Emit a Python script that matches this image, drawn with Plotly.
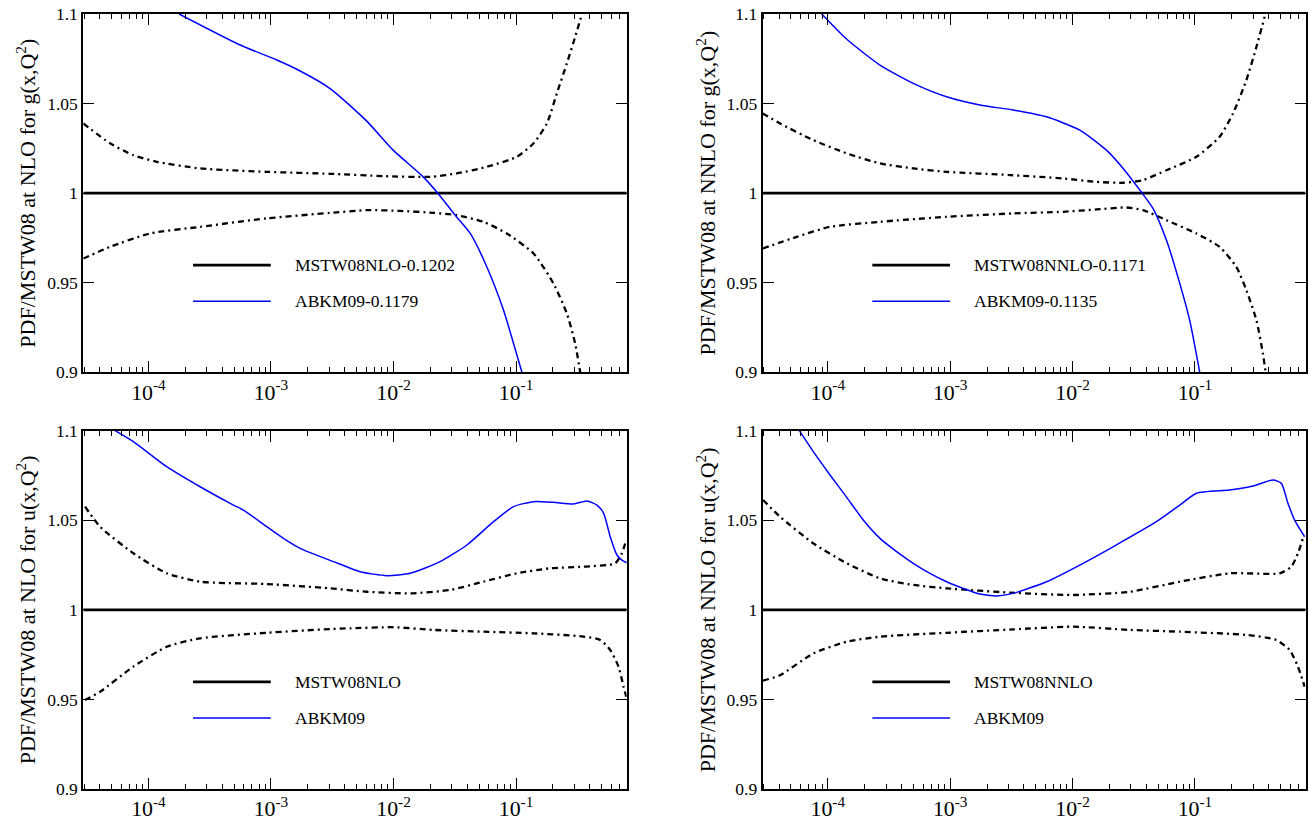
import plotly.graph_objects as go
import math

# ---------------- data ----------------
x_range = [2.94e-5, 0.80]

# Top-left: NLO gluon
gNLO_abkm_x = [1.78e-4, 5.60e-4, 1.117e-3, 1.73e-3, 3.04e-3, 6.05e-3, 9.93e-3, 1.746e-2,
               2.30e-2, 3.19e-2, 4.23e-2, 5.78e-2, 7.91e-2, 9.53e-2, 0.1117]
gNLO_abkm_y = [1.1, 1.0827, 1.0743, 1.0682, 1.0584, 1.0402, 1.024, 1.0091,
               1.0, 0.9877, 0.9775, 0.9588, 0.9346, 0.9162, 0.9]
gNLO_up_x = [2.94e-5, 4.86e-5, 7.53e-5, 1.17e-4, 2.64e-4, 9.25e-4, 3.04e-3, 8.24e-3, 1.99e-2,
             3.29e-2, 5.78e-2, 0.1016, 0.139, 0.1786, 0.2153, 0.26, 0.304, 0.345]
gNLO_up_y = [1.0389, 1.0278, 1.0212, 1.0175, 1.0138, 1.0119, 1.0108, 1.0095, 1.0091,
             1.011, 1.0147, 1.0203, 1.0278, 1.0389, 1.0557, 1.0725, 1.0873, 1.1]
gNLO_lo_x = [2.94e-5, 4.86e-5, 1.03e-4, 2.64e-4, 9.25e-4, 3.04e-3, 6.05e-3, 1.13e-2, 2.12e-2,
             3.29e-2, 5.42e-2, 8.41e-2, 0.139, 0.2023, 0.26, 0.304, 0.334]
gNLO_lo_y = [0.9635, 0.97, 0.9775, 0.9812, 0.9859, 0.989, 0.9905, 0.9901, 0.989,
             0.9877, 0.984, 0.9775, 0.9663, 0.9495, 0.9328, 0.916, 0.9]

# Top-right: NNLO gluon
gNNLO_abkm_x = [8.92e-5, 1.43e-4, 2.67e-4, 4.99e-4, 9.35e-4, 1.75e-3, 3.27e-3, 6.12e-3, 1.146e-2,
                1.89e-2, 2.59e-2, 3.70e-2, 4.55e-2, 5.85e-2, 7.52e-2, 9.06e-2, 0.1094]
gNNLO_abkm_y = [1.1, 1.0859, 1.0715, 1.0613, 1.0538, 1.0492, 1.0464, 1.0426, 1.0352,
                1.024, 1.0138, 1.0, 0.9914, 0.9737, 0.9495, 0.929, 0.9]
gNNLO_up_x = [2.94e-5, 4.07e-5, 7.62e-5, 1.43e-4, 2.67e-4, 4.99e-4, 9.35e-4, 3.08e-3, 8.38e-3,
              1.57e-2, 2.59e-2, 3.77e-2, 5.85e-2, 0.1028, 0.159, 0.2046, 0.263, 0.318, 0.371]
gNNLO_up_y = [1.0445, 1.0389, 1.0296, 1.0222, 1.0166, 1.0138, 1.0119, 1.0101, 1.0082,
              1.0063, 1.0058, 1.0073, 1.0128, 1.0203, 1.0315, 1.0445, 1.0631, 1.0817, 1.0985]
gNNLO_lo_x = [2.94e-5, 5.58e-5, 1.043e-4, 2.67e-4, 9.35e-4, 3.27e-3, 8.38e-3, 1.57e-2, 2.75e-2,
              3.77e-2, 5.85e-2, 0.1028, 0.159, 0.218, 0.263, 0.318, 0.359, 0.378]
gNNLO_lo_y = [0.9691, 0.9756, 0.9812, 0.984, 0.9868, 0.9887, 0.9896, 0.9909, 0.992,
              0.9905, 0.9849, 0.9775, 0.97, 0.9588, 0.9458, 0.929, 0.9104, 0.9]

# Bottom-left: NLO up quark
uNLO_abkm_x = [5.34e-5, 7.53e-5, 1.41e-4, 2.64e-4, 4.94e-4, 5.96e-4, 9.25e-4, 1.264e-3, 1.73e-3,
               3.24e-3, 5.34e-3, 8.82e-3, 1.368e-2, 2.40e-2, 3.97e-2, 6.55e-2, 9.53e-2, 0.139,
               0.202, 0.2944, 0.379, 0.457, 0.519, 0.587, 0.666, 0.731, 0.80]
uNLO_abkm_y = [1.1, 1.0939, 1.0799, 1.0687, 1.0585, 1.0557, 1.0464, 1.0399, 1.0343,
               1.0269, 1.0213, 1.0191, 1.0204, 1.0269, 1.0362, 1.0492, 1.0576, 1.0604,
               1.06, 1.0591, 1.0608, 1.0585, 1.0539, 1.0408, 1.0306, 1.0278, 1.0263]
uNLO_up_x = [3.04e-5, 4.03e-5, 7.53e-5, 1.41e-4, 2.64e-4, 9.25e-4, 3.04e-3, 6.05e-3, 1.368e-2,
             2.90e-2, 5.42e-2, 0.1016, 0.190, 0.355, 0.645, 0.731, 0.793]
uNLO_up_y = [1.0576, 1.0464, 1.0316, 1.0204, 1.0157, 1.0144, 1.012, 1.0101, 1.0092,
             1.0111, 1.0157, 1.0204, 1.0232, 1.0241, 1.026, 1.0316, 1.039]
uNLO_lo_x = [3.04e-5, 4.03e-5, 7.53e-5, 1.41e-4, 2.64e-4, 9.25e-4, 3.04e-3, 4.43e-3, 9.99e-3,
             2.12e-2, 5.42e-2, 0.139, 0.355, 0.486, 0.587, 0.686, 0.754, 0.793]
uNLO_lo_y = [0.9497, 0.9543, 0.9683, 0.9794, 0.9841, 0.9872, 0.9893, 0.9897, 0.9903,
             0.9888, 0.9878, 0.9869, 0.9851, 0.9832, 0.9776, 0.9683, 0.9571, 0.9515]

# Bottom-right: NNLO up quark
uNNLO_abkm_x = [5.86e-5, 7.62e-5, 1.043e-4, 1.428e-4, 1.95e-4, 2.67e-4, 3.65e-4, 4.99e-4, 6.83e-4,
                9.35e-4, 1.278e-3, 1.749e-3, 2.394e-3, 3.27e-3, 6.13e-3, 1.146e-2, 2.14e-2,
                4.84e-2, 7.52e-2, 0.1028, 0.192, 0.298, 0.434, 0.508, 0.575, 0.652, 0.787]
uNNLO_abkm_y = [1.1, 1.0883, 1.0753, 1.0628, 1.0502, 1.0399, 1.0325, 1.026, 1.0204,
                1.0157, 1.012, 1.0088, 1.0078, 1.0092, 1.0157, 1.025, 1.0352,
                1.0492, 1.0585, 1.0651, 1.0669, 1.0691, 1.0725, 1.0706, 1.0595, 1.0501, 1.0408]
uNNLO_up_x = [2.96e-5, 4.07e-5, 7.62e-5, 1.43e-4, 2.67e-4, 4.99e-4, 9.35e-4, 3.08e-3, 1.01e-2,
              2.93e-2, 7.52e-2, 0.192, 0.492, 0.613, 0.694, 0.762]
uNNLO_up_y = [1.0613, 1.052, 1.0371, 1.026, 1.0176, 1.0139, 1.012, 1.0096, 1.0083,
              1.0101, 1.0157, 1.0204, 1.0204, 1.0241, 1.0316, 1.04]
uNNLO_lo_x = [2.96e-5, 4.07e-5, 7.62e-5, 1.43e-4, 2.67e-4, 9.35e-4, 3.27e-3, 1.01e-2, 2.93e-2,
              7.52e-2, 0.263, 0.462, 0.593, 0.694, 0.787]
uNNLO_lo_y = [0.9605, 0.9635, 0.9757, 0.9822, 0.985, 0.9872, 0.9891, 0.9906, 0.9888,
              0.9878, 0.986, 0.9832, 0.9776, 0.9683, 0.9571]

y_tickvals = [0.9, 0.95, 1.0, 1.05, 1.1]
y_ticktext = ["0.9", "0.95", "1", "1.05", "1.1"]
# x tick labels: plotly's power labels use a unicode minus; alias them to a plain hyphen
x_label_alias = {"10<sup>\u2212%d</sup>" % n: "10<sup>-%d</sup>" % n for n in range(1, 6)}

panels = [
    dict(xd=[0.06364, 0.47876], yd=[0.54653, 0.98295],
         title="PDF/MSTW08 at NLO for g(x,Q<sup>2</sup>)",
         leg1="MSTW08NLO-0.1202", leg2="ABKM09-0.1179",
         abx=gNLO_abkm_x, aby=gNLO_abkm_y, upx=gNLO_up_x, upy=gNLO_up_y,
         lox=gNLO_lo_x, loy=gNLO_lo_y),
    dict(xd=[0.58266, 0.99733], yd=[0.54653, 0.98295],
         title="PDF/MSTW08 at NNLO for g(x,Q<sup>2</sup>)",
         leg1="MSTW08NNLO-0.1171", leg2="ABKM09-0.1135",
         abx=gNNLO_abkm_x, aby=gNNLO_abkm_y, upx=gNNLO_up_x, upy=gNNLO_up_y,
         lox=gNNLO_lo_x, loy=gNNLO_lo_y),
    dict(xd=[0.06364, 0.47876], yd=[0.03898, 0.47540],
         title="PDF/MSTW08 at NLO for u(x,Q<sup>2</sup>)",
         leg1="MSTW08NLO", leg2="ABKM09",
         abx=uNLO_abkm_x, aby=uNLO_abkm_y, upx=uNLO_up_x, upy=uNLO_up_y,
         lox=uNLO_lo_x, loy=uNLO_lo_y),
    dict(xd=[0.58266, 0.99733], yd=[0.03898, 0.47540],
         title="PDF/MSTW08 at NNLO for u(x,Q<sup>2</sup>)",
         leg1="MSTW08NNLO", leg2="ABKM09",
         abx=uNNLO_abkm_x, aby=uNNLO_abkm_y, upx=uNNLO_up_x, upy=uNNLO_up_y,
         lox=uNNLO_lo_x, loy=uNNLO_lo_y),
]

FONT = "Liberation Serif"
BLUE = "#0000ff"
FS = 17.5

fig = go.Figure()
layout = dict(
    width=1309, height=821, margin=dict(l=0, r=0, t=0, b=0),
    paper_bgcolor="white", plot_bgcolor="white", showlegend=False,
    font=dict(family=FONT, size=FS, color="black"),
    shapes=[], annotations=[],
)

for i, p in enumerate(panels):
    k = "" if i == 0 else str(i + 1)
    xa, ya = "x" + k, "y" + k
    fig.add_trace(go.Scatter(x=x_range, y=[1.0, 1.0], mode="lines", xaxis=xa, yaxis=ya,
                             line=dict(color="black", width=2.6), name=p["leg1"]))
    for bx, by in ((p["upx"], p["upy"]), (p["lox"], p["loy"])):
        fig.add_trace(go.Scatter(x=bx, y=by, mode="lines", xaxis=xa, yaxis=ya,
                                 line=dict(color="black", width=2.3, dash="6px,4px,2px,4px",
                                           shape="spline", smoothing=0.6),
                                 name="MSTW08 uncertainty"))
    fig.add_trace(go.Scatter(x=p["abx"], y=p["aby"], mode="lines", xaxis=xa, yaxis=ya,
                             line=dict(color=BLUE, width=1.5, shape="spline", smoothing=0.6),
                             name=p["leg2"]))

    layout["xaxis" + k] = dict(
        domain=p["xd"], anchor=ya, type="log",
        range=[math.log10(x_range[0]), math.log10(x_range[1])],
        tickmode="linear", tick0=0, dtick=1, exponentformat="power",
        labelalias=x_label_alias,
        ticks="inside", ticklen=11, tickwidth=1.2, tickcolor="black",
        minor=dict(dtick="D1", ticks="inside", ticklen=5,
                   tickwidth=1.2, tickcolor="black", showgrid=False),
        showline=True, linecolor="black", linewidth=2, mirror="allticks",
        showgrid=False, zeroline=False, automargin=False,
        tickfont=dict(family=FONT, size=FS, color="black"),
    )
    layout["yaxis" + k] = dict(
        domain=p["yd"], anchor=xa, range=[0.9, 1.1],
        tickmode="array", tickvals=y_tickvals, ticktext=y_ticktext,
        ticks="inside", ticklen=11, tickwidth=1.2, tickcolor="black",
        showline=True, linecolor="black", linewidth=2, mirror="allticks",
        showgrid=False, zeroline=False, automargin=False,
        tickfont=dict(family=FONT, size=FS, color="black"),
        title=dict(text=p["title"], font=dict(family=FONT, size=22, color="black"), standoff=5),
    )
    xref, yref = xa + " domain", ya + " domain"
    layout["shapes"].append(dict(type="line", xref=xref, yref=yref, x0=0.202, x1=0.345,
                                 y0=0.299, y1=0.299, line=dict(color="black", width=2.6)))
    layout["shapes"].append(dict(type="line", xref=xref, yref=yref, x0=0.202, x1=0.345,
                                 y0=0.198, y1=0.198, line=dict(color=BLUE, width=1.5)))
    layout["annotations"].append(dict(xref=xref, yref=yref, x=0.386, y=0.299, text=p["leg1"],
                                      showarrow=False, xanchor="left", yanchor="middle",
                                      font=dict(family=FONT, size=FS, color="black")))
    layout["annotations"].append(dict(xref=xref, yref=yref, x=0.386, y=0.198, text=p["leg2"],
                                      showarrow=False, xanchor="left", yanchor="middle",
                                      font=dict(family=FONT, size=FS, color="black")))

fig.update_layout(**layout)
fig.write_html("out.html")
